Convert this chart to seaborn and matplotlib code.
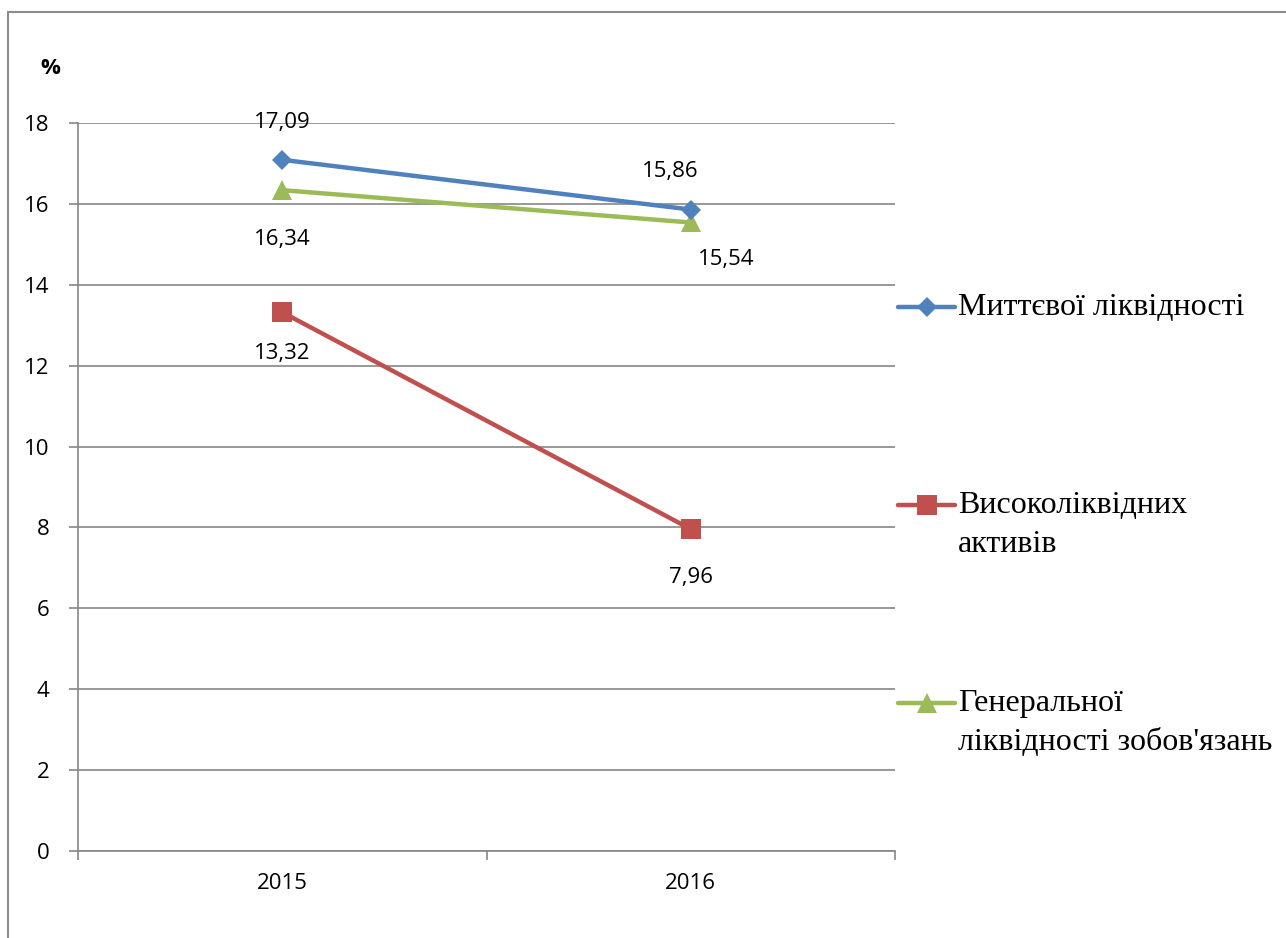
import matplotlib
matplotlib.use("Agg")
import matplotlib.pyplot as plt
import matplotlib.patches as mpatches
from matplotlib.lines import Line2D
from matplotlib.ticker import FixedLocator, NullFormatter
import seaborn as sns
import pandas as pd

# Data
years = ["2015", "2016"]
series_names = [
    "Миттєвої ліквідності",
    "Високоліквідних\nактивів",
    "Генеральної\nліквідності зобов'язань",
]
instant_liq = [17.09, 15.86]
high_liq_assets = [13.32, 7.96]
general_liq = [16.34, 15.54]
value_labels = [
    ["17,09", "15,86"],
    ["13,32", "7,96"],
    ["16,34", "15,54"],
]
y_ticks = [0, 2, 4, 6, 8, 10, 12, 14, 16, 18]

colors = ["#4F81BD", "#C0504D", "#9BBB59"]
markers = ["D", "s", "^"]
marker_sizes = [10, 14.5, 14.5]
# label offsets (pixels) relative to each point
label_offsets = [
    [(0, 37), (-20, 38)],
    [(0, -41), (0, -48)],
    [(0, -49), (35, -37)],
]

sns.set_theme(style="white")
plt.rcParams["font.family"] = ["Open Sans", "DejaVu Sans"]
plt.rcParams["text.color"] = "black"
plt.rcParams["xtick.labelcolor"] = "black"
plt.rcParams["ytick.labelcolor"] = "black"

W, H = 1286, 938
fig = plt.figure(figsize=(W / 100, H / 100), dpi=100)
ax = fig.add_axes([78 / W, (H - 851) / H, (895 - 78) / W, (851 - 123) / H])

all_series = [instant_liq, high_liq_assets, general_liq]
frames = []
for name, vals in zip(series_names, all_series):
    frames.append(pd.DataFrame({"year": years, "value": vals, "series": name}))
df = pd.concat(frames, ignore_index=True)

order = {y: i for i, y in enumerate(years)}
df["xpos"] = df["year"].map(order)

label_fs = 16
for i, name in enumerate(series_names):
    sub = df[df["series"] == name]
    sns.lineplot(
        data=sub, x="xpos", y="value", ax=ax, color=colors[i],
        marker=markers[i], markersize=marker_sizes[i], linewidth=3.2,
        markeredgewidth=0, legend=False, zorder=3 + i if i != 0 else 6,
    )
    for j, (xv, yv) in enumerate(zip(sub["xpos"], sub["value"])):
        dx, dy = label_offsets[i][j]
        ax.annotate(
            value_labels[i][j], (xv, yv), xytext=(dx, dy),
            textcoords="offset pixels", ha="center", va="center",
            fontsize=label_fs, color="black", zorder=10,
        )

ax.set_xlim(-0.5, len(years) - 0.5)
ax.set_ylim(0, 18)
ax.set_yticks(y_ticks)
ax.set_yticklabels([str(t) for t in y_ticks], fontsize=label_fs)
ax.yaxis.grid(True, color="#868686", linewidth=1.2)
ax.set_axisbelow(True)

# category ticks between categories, labels centred on categories
ax.xaxis.set_major_locator(FixedLocator([-0.5 + k for k in range(len(years) + 1)]))
ax.xaxis.set_major_formatter(NullFormatter())
ax.xaxis.set_minor_locator(FixedLocator(list(range(len(years)))))
ax.set_xticklabels(years, minor=True, fontsize=label_fs)
ax.tick_params(axis="x", which="major", direction="out", length=6.5,
               width=1.2, color="#868686", bottom=True)
ax.tick_params(axis="x", which="minor", length=0, pad=16, bottom=True)
ax.tick_params(axis="y", direction="out", length=6.5, width=1.2,
               color="#868686", left=True, pad=14)
ax.set_xlabel("")
ax.set_ylabel("")

for side in ["top", "right"]:
    ax.spines[side].set_visible(False)
for side in ["left", "bottom"]:
    ax.spines[side].set_color("#868686")
    ax.spines[side].set_linewidth(1.2)

fig.text(50 / W, 1 - 68 / H, "%", fontsize=label_fs, fontweight="bold",
         ha="center", va="center", color="black")

# legend on the right
legend_y = [307, 505, 703]
for i, name in enumerate(series_names):
    yf = 1 - legend_y[i] / H
    fig.add_artist(Line2D([898 / W, 955 / W], [yf, yf], color=colors[i],
                          linewidth=3.2, solid_capstyle="round",
                          transform=fig.transFigure))
    fig.add_artist(Line2D([926.5 / W], [yf], color=colors[i], marker=markers[i],
                          markersize=marker_sizes[i], markeredgewidth=0,
                          linestyle="none", transform=fig.transFigure))
    fig.text(958 / W, yf + 14 / H, name, fontsize=23,
             family=["Liberation Serif", "DejaVu Serif"], ha="left", va="top",
             linespacing=1.45, color="black")

# outer frame
fig.add_artist(mpatches.Rectangle((8 / W, -0.1), 2, (H - 12) / H + 0.1,
                                  transform=fig.transFigure, fill=False,
                                  edgecolor="#8c8c8c", linewidth=1.5))

fig.savefig("out.png", dpi=100)
